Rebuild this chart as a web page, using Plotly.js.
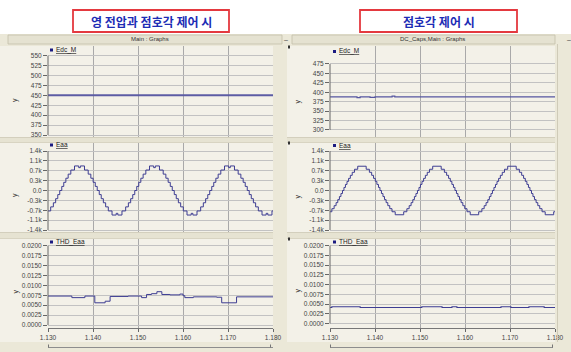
<!DOCTYPE html>
<html>
<head>
<meta charset="utf-8">
<script src="https://cdn.plot.ly/plotly-3.0.1.min.js"></script>
<style>
  html, body { margin: 0; padding: 0; background: #ffffff; }
  #g { width: 571px; height: 352px; }
</style>
</head>
<body>
<div id="g"></div>
<script>
// ---- time axis (s) ----
const timeTicks = [1.13, 1.14, 1.15, 1.16, 1.17, 1.18];
const timeTickText = ['1.130', '1.140', '1.150', '1.160', '1.170', '1.180'];

// ---- Edc_M : DC link voltage (V) ----
const edcLeftT = [1.130, 1.180];
const edcLeftV = [450, 450];
const edcRightT = [1.1300, 1.1360, 1.1367, 1.1389, 1.1400, 1.1438, 1.1444, 1.1800];
const edcRightV = [388, 386, 388, 386.5, 387.8, 390, 387.8, 387.8];
const edcLeftTicks = [350, 375, 400, 425, 450, 475, 500, 525, 550];
const edcRightTicks = [300, 325, 350, 375, 400, 425, 450, 475];

// ---- Eaa : phase voltage (V), staircase steps (value held from each time) ----
const eaaLeftT = [1.13000, 1.13060, 1.13119, 1.13170, 1.13217, 1.13261, 1.13306, 1.13350, 1.13397, 1.13448,
  1.13507, 1.13589, 1.13682, 1.13719, 1.13811, 1.13893, 1.13952, 1.14003, 1.14050, 1.14094,
  1.14139, 1.14183, 1.14230, 1.14281, 1.14340, 1.14423, 1.14515, 1.14552, 1.14644, 1.14726,
  1.14786, 1.14837, 1.14883, 1.14928, 1.14972, 1.15017, 1.15063, 1.15114, 1.15174, 1.15256,
  1.15348, 1.15385, 1.15477, 1.15560, 1.15619, 1.15670, 1.15717, 1.15761, 1.15806, 1.15850,
  1.15897, 1.15948, 1.16007, 1.16089, 1.16182, 1.16219, 1.16311, 1.16393, 1.16452, 1.16503,
  1.16550, 1.16594, 1.16639, 1.16683, 1.16730, 1.16781, 1.16840, 1.16923, 1.17015, 1.17052,
  1.17144, 1.17226, 1.17286, 1.17337, 1.17383, 1.17428, 1.17472, 1.17517, 1.17564, 1.17614,
  1.17674, 1.17756, 1.17848, 1.17885, 1.17977, 1.18000];
const eaaLeftV = [-725, -580, -435, -290, -145, 0, 145, 290, 435, 580,
  725, 870, 810, 870, 725, 580, 435, 290, 145, 0,
  -145, -290, -435, -580, -725, -870, -810, -870, -725, -580,
  -435, -290, -145, 0, 145, 290, 435, 580, 725, 870,
  810, 870, 725, 580, 435, 290, 145, 0, -145, -290,
  -435, -580, -725, -870, -810, -870, -725, -580, -435, -290,
  -145, 0, 145, 290, 435, 580, 725, 870, 810, 870,
  725, 580, 435, 290, 145, 0, -145, -290, -435, -580,
  -725, -870, -810, -870, -725, -725];

const eaaRightT = [1.13000, 1.13042, 1.13092, 1.13135, 1.13173, 1.13209, 1.13243, 1.13277, 1.13310, 1.13343,
  1.13378, 1.13413, 1.13452, 1.13494, 1.13545, 1.13616, 1.13804, 1.13875, 1.13926, 1.13968,
  1.14007, 1.14042, 1.14077, 1.14110, 1.14143, 1.14177, 1.14211, 1.14247, 1.14285, 1.14328,
  1.14378, 1.14449, 1.14638, 1.14708, 1.14759, 1.14802, 1.14840, 1.14876, 1.14910, 1.14943,
  1.14977, 1.15010, 1.15044, 1.15080, 1.15119, 1.15161, 1.15212, 1.15282, 1.15471, 1.15542,
  1.15592, 1.15635, 1.15673, 1.15709, 1.15743, 1.15777, 1.15810, 1.15843, 1.15878, 1.15913,
  1.15952, 1.15994, 1.16045, 1.16116, 1.16304, 1.16375, 1.16426, 1.16468, 1.16507, 1.16542,
  1.16577, 1.16610, 1.16643, 1.16677, 1.16711, 1.16747, 1.16785, 1.16828, 1.16878, 1.16949,
  1.17138, 1.17208, 1.17259, 1.17302, 1.17340, 1.17376, 1.17410, 1.17443, 1.17477, 1.17510,
  1.17544, 1.17580, 1.17618, 1.17661, 1.17712, 1.17782, 1.17971, 1.18000];
const eaaRightV = [-753, -645, -538, -430, -323, -215, -108, 0, 108, 215,
  323, 430, 538, 645, 753, 860, 753, 645, 538, 430,
  323, 215, 108, 0, -108, -215, -323, -430, -538, -645,
  -753, -860, -753, -645, -538, -430, -323, -215, -108, 0,
  108, 215, 323, 430, 538, 645, 753, 860, 753, 645,
  538, 430, 323, 215, 108, 0, -108, -215, -323, -430,
  -538, -645, -753, -860, -753, -645, -538, -430, -323, -215,
  -108, 0, 108, 215, 323, 430, 538, 645, 753, 860,
  753, 645, 538, 430, 323, 215, 108, 0, -108, -215,
  -323, -430, -538, -645, -753, -860, -753, -753];

const eaaTicks = [-1400, -1050, -700, -350, 0, 350, 700, 1050, 1400];
const eaaTickText = ['-1.4k', '-1.1k', '-0.7k', '-0.3k', '0.0', '0.3k', '0.7k', '1.1k', '1.4k'];

// ---- THD_Eaa ----
const thdLeftT = [1.1300, 1.1353, 1.1382, 1.1404, 1.1427, 1.1438, 1.1478, 1.1508, 1.1519, 1.1530,
  1.1542, 1.1553, 1.1571, 1.1593, 1.1600, 1.1604, 1.1623, 1.1675, 1.1686, 1.1719, 1.1800];
const thdLeftV = [0.0073, 0.0069, 0.0073, 0.0056, 0.0060, 0.0072, 0.0073, 0.0069, 0.0077, 0.0079,
  0.0084, 0.0077, 0.0076, 0.0078, 0.0074, 0.0069, 0.0071, 0.0070, 0.0056, 0.0071, 0.0071];
const thdRightT = [1.1300, 1.1304, 1.1367, 1.1504, 1.1549, 1.1571, 1.1582, 1.1680, 1.1702, 1.1742, 1.1776, 1.1800];
const thdRightV = [0.0041, 0.0043, 0.0041, 0.0043, 0.0041, 0.0043, 0.0041, 0.0043, 0.0041, 0.0043, 0.0041, 0.0041];
const thdTicks = [0, 0.0025, 0.005, 0.0075, 0.01, 0.0125, 0.015, 0.0175, 0.02];
const thdTickText = ['0.0000', '0.0025', '0.0050', '0.0075', '0.0100', '0.0125', '0.0150', '0.0175', '0.0200'];

// ---- page geometry helpers (pixels -> paper fraction) ----
const W = 571, H = 352;
const px = v => v / W;
const py = v => 1 - v / H;

const colX = { L: [48, 273], R: [330, 555] };
const rowY = [[46, 137], [143, 232], [239, 328]];

const FONT = 'Liberation Sans, Arial, sans-serif';
const TRACE = '#3d3d92';

// ---- traces ----
const traces = [
  { x: edcLeftT, y: edcLeftV, xaxis: 'x', yaxis: 'y', line: { color: '#5c5ca4', width: 2, shape: 'hv' } },
  { x: eaaLeftT, y: eaaLeftV, xaxis: 'x2', yaxis: 'y2', line: { color: TRACE, width: 1, shape: 'hv' } },
  { x: thdLeftT, y: thdLeftV, xaxis: 'x3', yaxis: 'y3', line: { color: TRACE, width: 1, shape: 'hv' } },
  { x: edcRightT, y: edcRightV, xaxis: 'x4', yaxis: 'y4', line: { color: '#5656a0', width: 1.2, shape: 'hv' } },
  { x: eaaRightT, y: eaaRightV, xaxis: 'x5', yaxis: 'y5', line: { color: TRACE, width: 1, shape: 'hv' } },
  { x: thdRightT, y: thdRightV, xaxis: 'x6', yaxis: 'y6', line: { color: TRACE, width: 1.1, shape: 'hv' } }
].map(t => Object.assign({ type: 'scatter', mode: 'lines', hoverinfo: 'skip', showlegend: false }, t));

function xAxis(col, bottom, anchor) {
  return {
    domain: [px(colX[col][0]), px(colX[col][1])],
    anchor: anchor,
    range: [1.13, 1.18],
    tickvals: timeTicks,
    ticktext: timeTickText,
    showticklabels: bottom,
    ticks: bottom ? 'outside' : '',
    ticklen: 3,
    tickcolor: '#666',
    showline: bottom,
    linecolor: '#777',
    linewidth: 1,
    showgrid: true,
    gridcolor: '#a9a9a9',
    gridwidth: 1,
    zeroline: false,
    fixedrange: true,
    tickfont: { family: FONT, size: 6.5, color: '#444' }
  };
}

function yAxis(row, anchor, range, vals, text) {
  return {
    domain: [py(rowY[row][1]), py(rowY[row][0])],
    anchor: anchor,
    range: range,
    tickvals: vals,
    ticktext: text,
    ticks: 'outside',
    ticklen: 4,
    tickcolor: '#666',
    showline: false,
    showgrid: true,
    gridcolor: '#c2c2c2',
    gridwidth: 1,
    zeroline: false,
    fixedrange: true,
    tickfont: { family: FONT, size: 6.5, color: '#444' }
  };
}

const edcLabels = edcLeftTicks.map(String);
const edcRLabels = edcRightTicks.map(String);

// ---- frame shapes ----
const shapes = [];
function rect(x0, y0, x1, y1, fill, line, lw) {
  shapes.push({ type: 'rect', xref: 'paper', yref: 'paper', layer: 'below',
    x0: px(x0), x1: px(x1), y0: py(y1), y1: py(y0),
    fillcolor: fill, line: { color: line || 'rgba(0,0,0,0)', width: line ? (lw || 1) : 0 } });
}
function hline(x0, x1, y, color, w) {
  shapes.push({ type: 'line', xref: 'paper', yref: 'paper', layer: 'above',
    x0: px(x0), x1: px(x1), y0: py(y), y1: py(y), line: { color: color, width: w || 1 } });
}
function vline(x, y0, y1, color, w) {
  shapes.push({ type: 'line', xref: 'paper', yref: 'paper', layer: 'above',
    x0: px(x), x1: px(x), y0: py(y0), y1: py(y1), line: { color: color, width: w || 1 } });
}

// window background
rect(0, 34, 571, 352, '#ebe8d8');
// graph panels
[[0, 273], [287, 555]].forEach(([a, b]) => {
  rowY.forEach(([t, bt]) => rect(a, t, b, bt, '#f3f1e8'));
  rect(a, 328, b, 342, '#f3f1e8');
});
// title bars of the two graph windows
rect(8, 35, 282, 44, '#e5e2d1', '#c3bfaa', 0.8);
rect(292, 35, 555, 44, '#e5e2d1', '#c3bfaa', 0.8);
// separators between stacked graphs
[[0, 273], [287, 555]].forEach(([a, b]) => {
  hline(a, b, 137.5, '#d3cfbd', 1);
  hline(a, b, 142.5, '#d8d4c2', 1);
  hline(a, b, 232.5, '#d3cfbd', 1);
  hline(a, b, 238.5, '#d8d4c2', 1);
});
rect(0, 138, 273, 142, '#e6e3d2');
rect(0, 233, 273, 238, '#e6e3d2');
rect(287, 138, 555, 142, '#e6e3d2');
rect(287, 233, 555, 238, '#e6e3d2');
vline(557.5, 44, 342, '#cfcbb8', 1);

// y axis lines spanning the tick range
[['x', 'y', 350, 550], ['x2', 'y2', -1400, 1400], ['x3', 'y3', 0, 0.02],
 ['x4', 'y4', 300, 475], ['x5', 'y5', -1400, 1400], ['x6', 'y6', 0, 0.02]].forEach(([xa, ya, a, b]) => {
  shapes.push({ type: 'line', xref: xa + ' domain', yref: ya, layer: 'above',
    x0: 0, x1: 0, y0: a, y1: b, line: { color: '#666', width: 1 } });
});

// trace legend markers
[[50, 50], [50, 145], [50, 242], [333, 51.5], [333, 145.5], [333, 242]].forEach(([x, y]) => {
  shapes.push({ type: 'rect', xref: 'paper', yref: 'paper', layer: 'above',
    x0: px(x), x1: px(x + 3), y0: py(y + 1.5), y1: py(y - 1.5),
    fillcolor: '#1b1b82', line: { width: 0 } });
});
// small graph handles on the right window
[47, 143, 239].forEach(y => {
  shapes.push({ type: 'rect', xref: 'paper', yref: 'paper', layer: 'above',
    x0: px(288), x1: px(290), y0: py(y + 1.5), y1: py(y - 1.5),
    fillcolor: '#333', line: { width: 0 } });
});

// scroll rulers under the time axis
hline(48, 273, 347.5, '#8d8d8d', 1);
hline(330, 553, 347.5, '#8d8d8d', 1);
vline(48.5, 344.5, 347.5, '#777', 1);
vline(270.5, 344.5, 347.5, '#777', 1);
vline(330.5, 344.5, 347.5, '#777', 1);
vline(552.5, 344.5, 347.5, '#777', 1);

// headline boxes
shapes.push({ type: 'rect', xref: 'paper', yref: 'paper', layer: 'above',
  x0: px(73), x1: px(229), y0: py(32), y1: py(10), line: { color: '#e4393f', width: 1.8 } });
shapes.push({ type: 'rect', xref: 'paper', yref: 'paper', layer: 'above',
  x0: px(360), x1: px(517), y0: py(32), y1: py(10), line: { color: '#e4393f', width: 1.8 } });

// ---- annotations ----
const annotations = [];
function label(x, y, text, opts) {
  annotations.push(Object.assign({
    xref: 'paper', yref: 'paper', x: px(x), y: py(y), text: text, showarrow: false,
    xanchor: 'center', yanchor: 'middle',
    font: { family: FONT, size: 6.5, color: '#333' }
  }, opts || {}));
}
const KFONT = { family: 'Noto Sans CJK KR, sans-serif', size: 12, color: '#1d2cb5' };
label(151, 21, '<b>영 전압과 점호각 제어 시</b>', { font: KFONT });
label(438.5, 21, '<b>점호각 제어 시</b>', { font: KFONT });

label(150, 39.5, 'Main : Graphs', { font: { family: FONT, size: 6, color: '#333' } });
label(432, 39.5, 'DC_Caps,Main : Graphs', { font: { family: FONT, size: 6, color: '#333' } });
label(286, 39.5, '–', { font: { family: FONT, size: 7, color: '#444' } });
label(569, 39.5, '–', { font: { family: FONT, size: 7, color: '#444' } });

const legendFont = { family: FONT, size: 6.5, color: '#222' };
label(54, 50, '<u>Edc_M</u>', { xanchor: 'left', font: legendFont });
label(54, 145, '<u>Eaa</u>', { xanchor: 'left', font: legendFont });
label(54, 242, '<u>THD_Eaa</u>', { xanchor: 'left', font: legendFont });
label(337, 51.5, '<u>Edc_M</u>', { xanchor: 'left', font: legendFont });
label(337, 145.5, '<u>Eaa</u>', { xanchor: 'left', font: legendFont });
label(337, 242, '<u>THD_Eaa</u>', { xanchor: 'left', font: legendFont });

[[15, 100], [15, 195], [15, 291.5], [297, 101.5], [297, 196.5], [297, 290.5]].forEach(([x, y]) => {
  label(x, y, 'y', { textangle: -90, font: { family: FONT, size: 7, color: '#333' } });
});

const layout = {
  width: W, height: H,
  margin: { l: 0, r: 0, t: 0, b: 0 },
  paper_bgcolor: '#ffffff',
  plot_bgcolor: '#ffffff',
  showlegend: false,
  xaxis: xAxis('L', false, 'y'),
  xaxis2: xAxis('L', false, 'y2'),
  xaxis3: xAxis('L', true, 'y3'),
  xaxis4: xAxis('R', false, 'y4'),
  xaxis5: xAxis('R', false, 'y5'),
  xaxis6: xAxis('R', true, 'y6'),
  yaxis: yAxis(0, 'x', [345, 574.5], edcLeftTicks, edcLabels),
  yaxis2: yAxis(1, 'x2', [-1471, 1683.5], eaaTicks, eaaTickText),
  yaxis3: yAxis(2, 'x3', [-0.000757, 0.02169], thdTicks, thdTickText),
  yaxis4: yAxis(0, 'x4', [281.4, 522.7], edcRightTicks, edcRLabels),
  yaxis5: yAxis(1, 'x5', [-1471, 1683.5], eaaTicks, eaaTickText),
  yaxis6: yAxis(2, 'x6', [-0.001157, 0.021722], thdTicks, thdTickText),
  shapes: shapes,
  annotations: annotations
};

Plotly.newPlot('g', traces, layout, { staticPlot: true, displayModeBar: false });
</script>
</body>
</html>
